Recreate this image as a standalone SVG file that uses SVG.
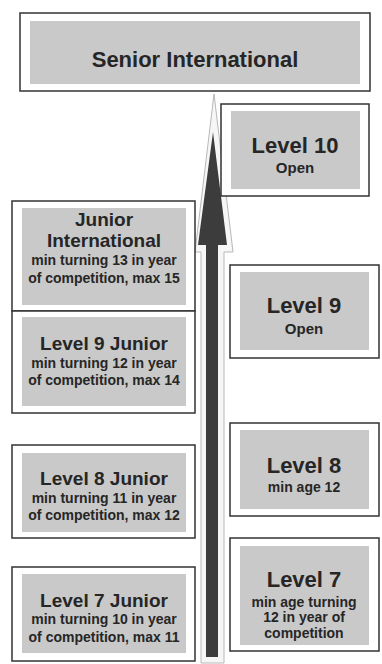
<svg xmlns="http://www.w3.org/2000/svg" width="382" height="664" viewBox="0 0 382 664">
<style>
.outer{fill:#fff;stroke:#333;stroke-width:1.5}
.inner{fill:#c9c9c9}
text{font-family:"Liberation Sans",Arial,sans-serif;font-weight:bold;fill:#262626;text-anchor:middle}
.t22{font-size:22px}
.t19{font-size:19px}
.s14{font-size:14px}
.s15{font-size:15px}
</style>
<rect width="382" height="664" fill="#fff"/>
<g id="connectors">
<path d="M214,94 L233,252 L224,252 L224,663 L201,663 L201,252 L195,252 Z" fill="#f6f6f6" stroke="#b8b8b8" stroke-width="1"/>
<path d="M213,132 L227,245 L218,245 L218,657 L206,657 L206,245 L198,245 Z" fill="#3c3c3c"/>
</g>
<g id="senior-international">
<rect class="outer" x="20" y="13" width="350" height="78"/>
<rect class="inner" x="30" y="21" width="330" height="63"/>
<text class="t22" x="195" y="67">Senior International</text>
</g>
<g id="level-10">
<rect class="outer" x="221" y="104" width="148" height="92"/>
<rect class="inner" x="231" y="111" width="129" height="78"/>
<text class="t22" x="295" y="153">Level 10</text>
<text class="s15" x="295" y="173">Open</text>
</g>
<g id="junior-international">
<rect class="outer" x="12" y="201" width="183" height="110"/>
<rect class="inner" x="22" y="208" width="164" height="97"/>
<text class="t19" x="104" y="226">Junior</text>
<text class="t19" x="104" y="247">International</text>
<text class="s14" x="104" y="265">min turning 13 in year</text>
<text class="s14" x="104" y="283">of competition, max 15</text>
</g>
<g id="level-9-junior">
<rect class="outer" x="12" y="311" width="183" height="102"/>
<rect class="inner" x="22" y="317" width="164" height="89"/>
<text class="t19" x="104" y="350">Level 9 Junior</text>
<text class="s14" x="104" y="368">min turning 12 in year</text>
<text class="s14" x="104" y="385">of competition, max 14</text>
</g>
<g id="level-9">
<rect class="outer" x="230" y="265" width="149" height="93"/>
<rect class="inner" x="240" y="272" width="129" height="78"/>
<text class="t22" x="304" y="313">Level 9</text>
<text class="s15" x="304" y="334">Open</text>
</g>
<g id="level-8">
<rect class="outer" x="230" y="423" width="149" height="93"/>
<rect class="inner" x="240" y="430" width="129" height="79"/>
<text class="t22" x="304" y="473">Level 8</text>
<text class="s14" x="304" y="492">min age 12</text>
</g>
<g id="level-8-junior">
<rect class="outer" x="12" y="445" width="183" height="93"/>
<rect class="inner" x="22" y="453" width="164" height="79"/>
<text class="t19" x="104" y="485">Level 8 Junior</text>
<text class="s14" x="104" y="503">min turning 11 in year</text>
<text class="s14" x="104" y="520">of competition, max 12</text>
</g>
<g id="level-7">
<rect class="outer" x="230" y="538" width="149" height="113"/>
<rect class="inner" x="240" y="546" width="129" height="99"/>
<text class="t22" x="304" y="587">Level 7</text>
<text class="s14" x="304" y="607">min age turning</text>
<text class="s14" x="304" y="622">12 in year of</text>
<text class="s14" x="304" y="638">competition</text>
</g>
<g id="level-7-junior">
<rect class="outer" x="12" y="567" width="183" height="94"/>
<rect class="inner" x="22" y="574" width="164" height="79"/>
<text class="t19" x="104" y="607">Level 7 Junior</text>
<text class="s14" x="104" y="624">min turning 10 in year</text>
<text class="s14" x="104" y="642">of competition, max 11</text>
</g>
</svg>
